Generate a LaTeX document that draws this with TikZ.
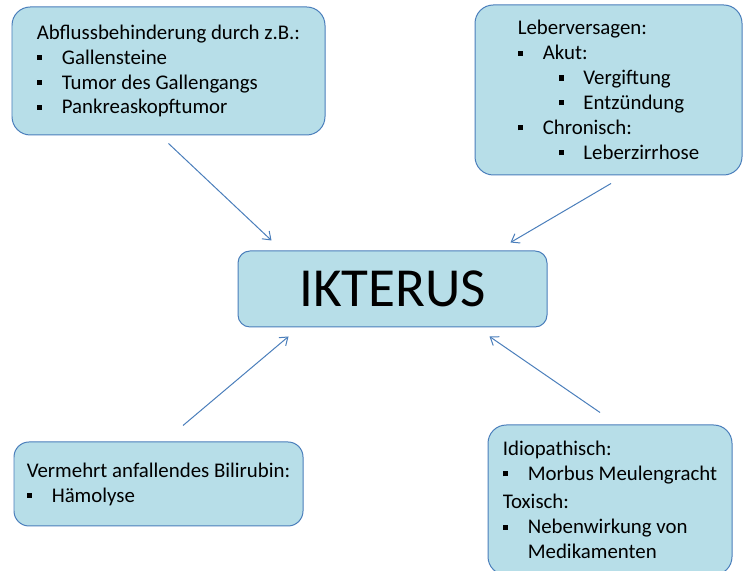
\documentclass[tikz,border=0pt]{standalone}
\usepackage{fontspec}
\setmainfont{Carlito}
\usetikzlibrary{arrows.meta, positioning}
\definecolor{cfill}{HTML}{B7DEE8}
\definecolor{cline}{HTML}{4A7EBB}
\newcommand{\bsq}{\rule[0.2em]{4.3pt}{4.3pt}}
\newcommand{\itemA}[1]{\makebox[0.75cm][l]{\bsq}#1}
\newcommand{\itemB}[1]{\hspace*{1.25cm}\makebox[0.72cm][l]{\bsq}#1}
\tikzset{
  every picture/.style={line width=0.85pt},
  box/.style={draw=cline, fill=cfill, rounded corners=0.55cm, align=left, inner sep=0pt,
    font=\fontsize{17.8}{21.3}\selectfont},
  arrow/.style={-{Straight Barb[length=2.2mm, width=3.2mm]}, draw=cline},
}

\begin{document}
\begin{tikzpicture}
  \useasboundingbox (0,0) rectangle (22.29,17.13);
  \node[box, minimum width=9.39cm, minimum height=3.84cm] (abfluss) at (5.055,15.0)
    {Abflussbehinderung durch z.B.:\\\itemA{Gallensteine}\\\itemA{Tumor des Gallengangs}\\\itemA{Pankreaskopftumor}};
  \node[box, minimum width=8.01cm, minimum height=5.1cm] (leber) at (18.255,14.43)
    {Leberversagen:\\\itemA{Akut:}\\\itemB{Vergiftung}\\\itemB{Entzündung}\\\itemA{Chronisch:}\\\itemB{Leberzirrhose}};
  \node[box, rounded corners=0.36cm, minimum width=9.27cm, minimum height=2.28cm,
    font=\fontsize{47}{50}\selectfont] (ikterus) at (11.775,8.46) {IKTERUS};
  \node[box, rounded corners=0.45cm, minimum width=8.67cm, minimum height=2.52cm] (bilirubin) at (4.755,2.61)
    {Vermehrt anfallendes Bilirubin:\\\itemA{Hämolyse}};
  \node[box, minimum width=7.32cm, minimum height=4.5cm] (idio) at (18.3,2.13)
    {Idiopathisch:\\\itemA{Morbus Meulengracht}\\[3pt]Toxisch:\\\itemA{Nebenwirkung von}\\\hspace*{0.75cm}Medikamenten};
  % arrows into the centre
  \draw[arrow] ([yshift=-0.24cm]abfluss.south) -- ([xshift=1.02cm, yshift=0.3cm]ikterus.north west);
  \draw[arrow] ([xshift=0.075cm, yshift=-0.24cm]leber.south) -- ([xshift=-1.11cm, yshift=0.24cm]ikterus.north east);
  \draw[arrow] ([xshift=0.735cm, yshift=0.48cm]bilirubin.north) -- ([xshift=1.53cm, yshift=-0.27cm]ikterus.south west);
  \draw[arrow] ([xshift=-0.3cm, yshift=0.36cm]idio.north) -- ([xshift=-1.74cm, yshift=-0.27cm]ikterus.south east);
\end{tikzpicture}
\end{document}
